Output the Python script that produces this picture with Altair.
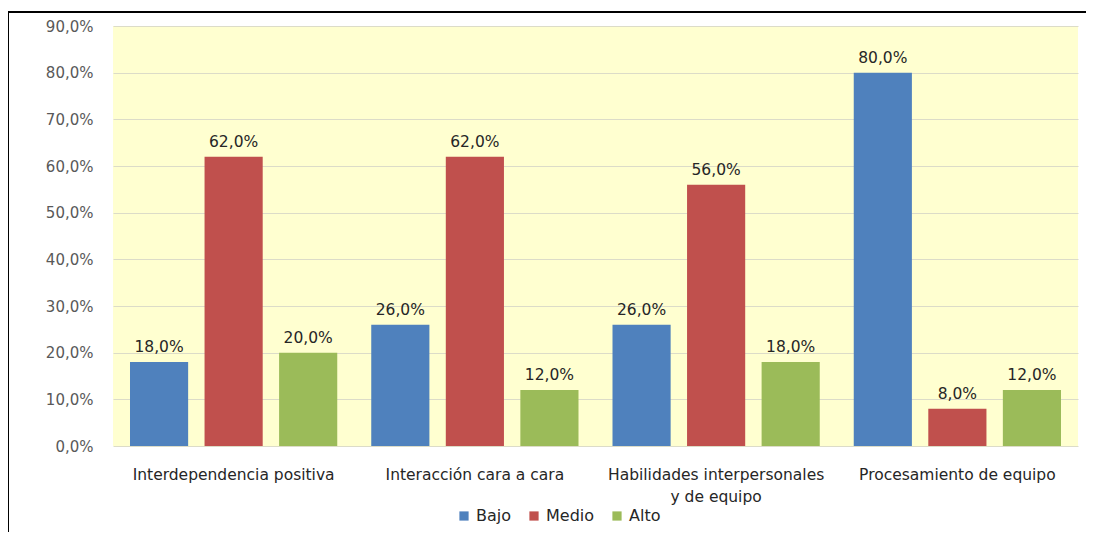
import altair as alt
import pandas as pd

categories = ["Interdependencia positiva", "Interacción cara a cara",
              "Habilidades interpersonales|y de equipo", "Procesamiento de equipo"]
levels = ["Bajo", "Medio", "Alto"]
bajo = [18.0, 26.0, 26.0, 80.0]
medio = [62.0, 62.0, 56.0, 8.0]
alto = [20.0, 12.0, 18.0, 12.0]
colors = ["#4F81BD", "#C0504D", "#9BBB59"]

rows = []
for i, c in enumerate(categories):
    for lvl, vals in zip(levels, [bajo, medio, alto]):
        v = vals[i]
        rows.append({"cat": c, "nivel": lvl, "valor": v,
                     "txt": (f"{v:.1f}%").replace(".", ",")})
df = pd.DataFrame(rows)

W, H = 965, 420
FONT = "DejaVu Sans"

x = alt.X("cat:N", sort=categories, title=None,
          scale=alt.Scale(paddingInner=0, paddingOuter=0),
          axis=alt.Axis(labelAngle=0, labelExpr="split(datum.label, '|')",
                        labelFontSize=15.5, labelColor="#262626", labelFont=FONT,
                        labelPadding=21, ticks=False, domain=False,
                        labelLineHeight=22, labelLimit=0))
xo = alt.XOffset("nivel:N", sort=levels,
                 scale=alt.Scale(paddingInner=0.22, paddingOuter=0.228))
y = alt.Y("valor:Q", title=None,
          scale=alt.Scale(domain=[0, 90], nice=False),
          axis=alt.Axis(values=list(range(0, 91, 10)),
                        labelExpr="replace(format(datum.value, '.1f'), '.', ',') + '%'",
                        labelFontSize=15, labelColor="#595959", labelFont=FONT,
                        labelPadding=20, ticks=False, domain=False,
                        gridColor="#DCDCC8", gridWidth=1))

base = alt.Chart(df)
bars = base.mark_bar().encode(
    x=x, xOffset=xo, y=y,
    color=alt.Color("nivel:N", sort=levels,
                    scale=alt.Scale(domain=levels, range=colors),
                    legend=alt.Legend(title=None, orient="none", direction="horizontal",
                                      legendX=343, legendY=482,
                                      symbolType="square", symbolSize=85,
                                      symbolStrokeWidth=0,
                                      labelFontSize=16, labelColor="#262626",
                                      labelFont=FONT, columnPadding=14,
                                      symbolOffset=0, labelOffset=4)))
labels = base.mark_text(baseline="bottom", dy=-7, fontSize=15.5, color="#262626",
                        font=FONT).encode(
    x=alt.X("cat:N", sort=categories), xOffset=xo, y="valor:Q", text="txt:N")

frame_top = base.mark_rule(color="black", strokeWidth=2, clip=False).encode(
    x=alt.value(-105), x2=alt.value(W + 30), y=alt.value(-14))
frame_left = base.mark_rule(color="black", strokeWidth=2, clip=False).encode(
    x=alt.value(-105), y=alt.value(-14), y2=alt.value(H + 200))

chart = alt.layer(frame_top, frame_left, bars, labels).properties(
    width=W, height=H,
    padding={"left": 105, "top": 18, "right": 8, "bottom": 86},
    autosize=alt.AutoSizeParams(type="none"),
    background="white",
).configure_view(fill="#FFFFD0", stroke=None)

chart.save("out.html", embed_options={"renderer": "svg", "actions": False})
